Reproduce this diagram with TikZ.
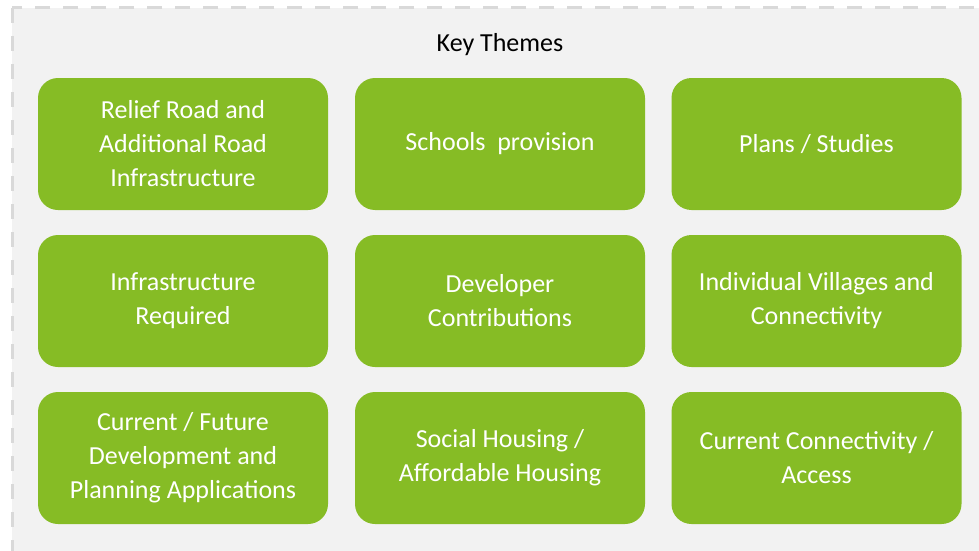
\documentclass[tikz,border=0pt]{standalone}
\usepackage{fontspec}
\setmainfont{Carlito}
\definecolor{themegreen}{RGB}{134,188,37}
\definecolor{panelgray}{RGB}{242,242,242}
\definecolor{dashgray}{RGB}{217,217,217}
\tikzset{theme/.style={rectangle, rounded corners=20pt, fill=themegreen, text=white, minimum width=290pt, minimum height=132pt, inner sep=0pt, align=center, font=\fontsize{26}{34}\selectfont}}

\begin{document}
\begin{tikzpicture}[x=1pt,y=-1pt]
\useasboundingbox (0,0) rectangle (979,551);
\clip (0,0) rectangle (979,551);
\fill[white] (0,0) rectangle (979,551);

%panel
\draw[fill=panelgray, draw=dashgray, line width=3pt, dash pattern=on 15pt off 13pt] (12,8) rectangle (995,570);
\node (T) at (500,45) {{\fontsize{26}{30}\selectfont Key Themes}};

%row 1
\node[theme] (RR) at (183,144) {Relief Road and\\Additional Road\\Infrastructure};
\node[theme] (SP) at (500,144) {Schools\ \ provision};
\node[theme] (PS) at (816.5,144) {Plans / Studies};
%row 2
\node[theme] (IR) at (183,301) {Infrastructure\\Required};
\node[theme] (DC) at (500,301) {Developer\\Contributions};
\node[theme] (IV) at (816.5,301) {Individual Villages and\\Connectivity};
%row 3
\node[theme] (CF) at (183,458) {Current / Future\\Development and\\Planning Applications};
\node[theme] (SH) at (500,458) {Social Housing /\\Affordable Housing};
\node[theme] (CC) at (816.5,458) {Current Connectivity /\\Access};
\end{tikzpicture}
\end{document}
